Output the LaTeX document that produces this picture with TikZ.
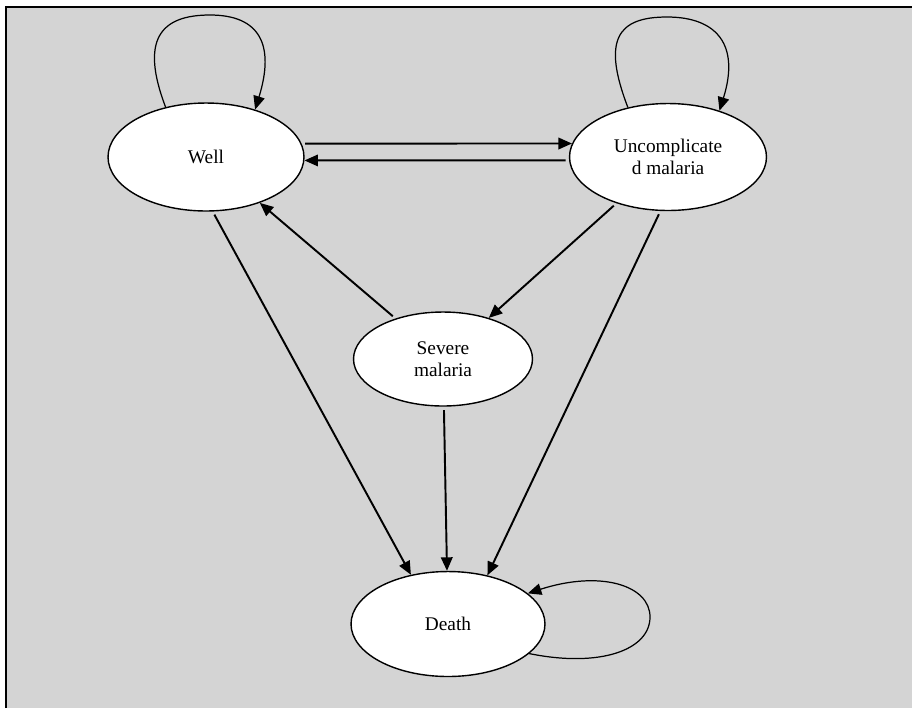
\documentclass[tikz,border=0pt]{standalone}
\usepackage{fontspec}
\setmainfont{Liberation Serif}
\usetikzlibrary{shapes.geometric, arrows.meta, positioning}
\definecolor{panelgray}{RGB}{212,212,212}

\begin{document}
\begin{tikzpicture}[
    x=0.02cm, y=-0.02cm,
    statenode/.style={ellipse, draw, line width=0.8pt, fill=white, inner sep=0pt, align=center, font=\fontsize{11}{12.6}\selectfont},
    arrow/.style={-{Triangle[length=0.27cm, width=0.23cm]}, line width=1.1pt, shorten <=2pt},
    selfloop/.style={-{Triangle[length=0.27cm, width=0.23cm]}, line width=0.7pt}
]
    \useasboundingbox (0,0) rectangle (912,708);
    \fill[panelgray] (6,7) rectangle (912,708);
    \draw[line width=1.2pt] (6,708) -- (6,7) -- (912,7);

    \node[statenode, minimum width=3.92cm, minimum height=2.16cm] (well) at (206,157) {Well};
    \node[statenode, minimum width=3.94cm, minimum height=2.14cm] (uncomp) at (668,157) {Uncomplicate\\d malaria};
    \node[statenode, minimum width=3.58cm, minimum height=1.88cm] (severe) at (443,359) {Severe\\malaria};
    \node[statenode, minimum width=3.88cm, minimum height=2.1cm] (death) at (448,624) {Death};

    \draw[arrow] (well.8) -- (uncomp.172);
    \draw[arrow] (uncomp.182) -- (well.-2);
    \draw[arrow] (severe) -- (well);
    \draw[arrow] (uncomp) -- (severe);
    \draw[arrow] (well.-83) -- (death.127);
    \draw[arrow] (severe) -- (death);
    \draw[arrow] (uncomp.-98) -- (death.51);

    % self loops
    \draw[selfloop] (well.129) .. controls (140,40) and (160,15) .. (210,15) .. controls (260,15) and (275,45) .. (well.44);
    \draw[selfloop] (uncomp.129) .. controls (602,40) and (617,17) .. (667,17) .. controls (717,17) and (740,45) .. (uncomp.42);
    \draw[selfloop] (death.-20) .. controls (600,668) and (650,650) .. (650,617) .. controls (650,585) and (600,570) .. (death.21);
\end{tikzpicture}
\end{document}
